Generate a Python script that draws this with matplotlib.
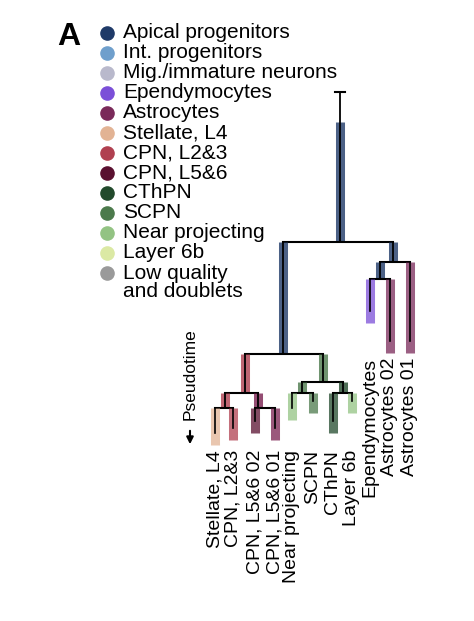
import matplotlib.pyplot as plt

legend_labels = ["Apical progenitors", "Int. progenitors", "Mig./immature neurons",
                 "Ependymocytes", "Astrocytes", "Stellate, L4", "CPN, L2&3", "CPN, L5&6",
                 "CThPN", "SCPN", "Near projecting", "Layer 6b", "Low quality\nand doublets"]
legend_colors = ["#1f3a68", "#6f9fcc", "#b9b9cc", "#7b4fd8", "#7a2a5a", "#e2b394", "#b04050",
                 "#5a1030", "#224a2c", "#4c7a4c", "#93c383", "#dbe9a4", "#9a9a9a"]

# leaves: name, x, end (pseudotime, in px), colour
leaves = [("Stellate, L4", 215, 445, "#e2b394"), ("CPN, L2&3", 233, 440, "#b04050"),
          ("CPN, L5&6 02", 255, 433, "#5a1030"), ("CPN, L5&6 01", 275, 440, "#7a2050"),
          ("Near projecting", 292, 420, "#93c383"), ("SCPN", 313, 413, "#4c7a4c"),
          ("CThPN", 333, 433, "#224a2c"), ("Layer 6b", 352, 413, "#93c383"),
          ("Ependymocytes", 370, 323, "#7b4fd8"), ("Astrocytes 02", 390, 353, "#7a2a5a"),
          ("Astrocytes 01", 410, 353, "#7a2a5a")]
# internal nodes: x, split y, parent y, child x list, colour
nodes = [(340, 242, 92, [283, 393], "#1f3a68"),
         (283, 354, 242, [245, 323], "#1f3a68"),
         (393, 262, 242, [380, 410], "#1f3a68"),
         (380, 279, 262, [370, 390], "#1f3a68"),
         (245, 393, 354, [225, 258], "#b04050"),
         (225, 408, 393, [215, 233], "#b04050"),
         (258, 408, 393, [255, 275], "#7a2050"),
         (323, 382, 354, [302, 343], "#4c7a4c"),
         (302, 393, 382, [292, 313], "#4c7a4c"),
         (343, 393, 382, [333, 352], "#224a2c")]
leaf_parent = {215: 408, 233: 408, 255: 408, 275: 408, 292: 393, 313: 393,
               333: 393, 352: 393, 370: 279, 390: 279, 410: 262}

fig = plt.figure(figsize=(4.74, 6.21), dpi=100)
ax = fig.add_axes([0, 0, 1, 1])
ax.set_xlim(0, 474)
ax.set_ylim(621, 0)
ax.axis("off")

for x, y, py, kids, c in nodes:
    top = 122 if x == 340 else py
    ax.plot([x, x], [top, y], color=c, lw=6.5, alpha=0.8, solid_capstyle="butt")
    ax.plot([x, x], [py, y], color="black", lw=1.3)
    ax.plot([min(kids), max(kids)], [y, y], color="black", lw=1.5)
ax.plot([335, 345], [92, 92], color="black", lw=1.5)

for name, x, end, c in leaves:
    py = leaf_parent[x]
    ax.plot([x, x], [py, end], color=c, lw=6.5, alpha=0.75, solid_capstyle="butt")
    ax.plot([x, x], [py, end - 12], color="black", lw=1.2)
    ty = 450 if end > 380 else 358
    ax.text(x, ty, name, rotation=90, ha="center", va="top", fontsize=14,
            family="Liberation Sans")

for i, (lab, c) in enumerate(zip(legend_labels, legend_colors)):
    y = 33 + i * 20
    ax.scatter(107, y, s=90, color=c)
    if "\n" in lab:
        ax.text(123, y - 9, lab, va="top", fontsize=15, family="Liberation Sans",
                linespacing=0.95)
    else:
        ax.text(123, y, lab, va="center", fontsize=15, family="Liberation Sans")

ax.text(57, 37, "A", fontsize=23, fontweight="bold", va="center", family="Liberation Sans")
ax.text(190, 374, "Pseudotime", rotation=90, ha="center", va="center", fontsize=12.5,
        family="Liberation Sans")
ax.annotate("", xy=(190, 447), xytext=(190, 428),
            arrowprops=dict(arrowstyle="-|>", color="black", lw=1.5))

plt.savefig("out.png", dpi=100)
